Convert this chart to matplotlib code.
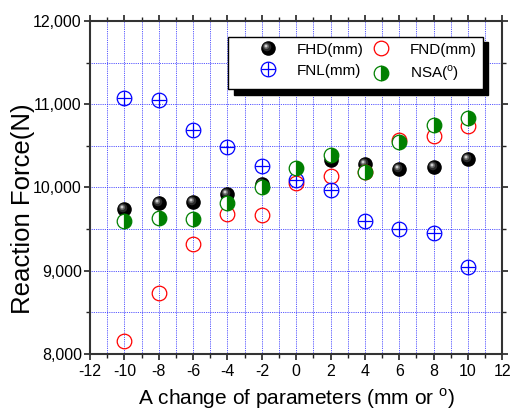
import numpy as np
import matplotlib
matplotlib.use('Agg')
import matplotlib.pyplot as plt
from matplotlib.path import Path
from matplotlib.ticker import MultipleLocator, StrMethodFormatter
from matplotlib.legend_handler import HandlerTuple

plt.rcParams['font.family'] = ['Liberation Sans', 'DejaVu Sans']
plt.rcParams['mathtext.fontset'] = 'custom'
plt.rcParams['mathtext.rm'] = 'Liberation Sans'
plt.rcParams['axes.unicode_minus'] = False

# ---- data ----
x   = [-10, -8, -6, -4, -2, 0, 2, 4, 6, 8, 10]
fhd = [9735, 9815, 9830, 9915, 10045, 10230, 10335, 10285, 10225, 10245, 10345]
fnd = [8160, 8730, 9325, 9675, 9665, 10055, 10140, 10180, 10570, 10615, 10735]
fnl = [11080, 11055, 10695, 10480, 10255, 10095, 9965, 9595, 9505, 9450, 9045]
nsa = [9595, 9635, 9615, 9815, 10000, 10230, 10385, 10180, 10540, 10750, 10840]

labels = ['FHD(mm)', 'FND(mm)', 'FNL(mm)', r'NSA($^\mathrm{o}$)']

MS = 10.5


def blob(cx, cy, r):
    # circle path padded with two move-tos so the marker keeps its scale/offset
    c = Path.circle((cx, cy), r)
    verts = np.vstack([[[-1, -1]], [[1, 1]], c.vertices])
    codes = [Path.MOVETO, Path.MOVETO] + list(c.codes)
    return Path(verts, codes)


dpi = 100
fig = plt.figure(figsize=(512 / dpi, 411 / dpi), dpi=dpi)
ax = fig.add_axes([0.176, 0.139, 0.805, 0.810])

# FHD: shaded black spheres
layers = [(0.0, 0.0, 1.0, '#000000'),
          (-0.22, 0.22, 0.6, '#2a2a2a'),
          (-0.3, 0.3, 0.38, '#666666'),
          (-0.34, 0.34, 0.2, '#cccccc')]
fhd_h = []
for cx, cy, r, col in layers:
    ln, = ax.plot(x, fhd, ls='none', marker=blob(cx, cy, r), ms=MS,
                  mfc=col, mec='none', zorder=3)
    fhd_h.append(ln)

# FND: open red circles
fnd_h, = ax.plot(x, fnd, ls='none', marker='o', ms=MS, mfc='none',
                 mec='red', mew=0.9, zorder=3)

# FNL: blue circle with plus
fnl_o, = ax.plot(x, fnl, ls='none', marker='o', ms=MS, mfc='none',
                 mec='blue', mew=0.9, zorder=3)
fnl_p, = ax.plot(x, fnl, ls='none', marker='+', ms=MS, mec='blue',
                 mew=0.9, zorder=3)

# NSA: half-filled green
nsa_h, = ax.plot(x, nsa, ls='none', marker='o', ms=MS, fillstyle='right',
                 mfc='#008000', mfcalt='white', mec='#008000', mew=0.9,
                 zorder=4)

ax.set_xlim(-12, 12)
ax.set_ylim(8000, 12000)
ax.xaxis.set_major_locator(MultipleLocator(2))
ax.xaxis.set_minor_locator(MultipleLocator(1))
ax.yaxis.set_major_locator(MultipleLocator(1000))
ax.yaxis.set_minor_locator(MultipleLocator(500))
ax.yaxis.set_major_formatter(StrMethodFormatter('{x:,.0f}'))

ax.set_axisbelow(True)
ax.tick_params(which='both', direction='out', top=True, right=True,
               labelsize=11.5, color='#222222')
ax.tick_params(axis='x', which='both', pad=3)
ax.tick_params(axis='y', which='both', pad=1.5)
ax.tick_params(which='major', length=4.5, width=1.2)
ax.tick_params(which='minor', length=3, width=1.0)
ax.grid(which='both', color='#2020ff', ls=(0, (1, 1.2)), lw=0.6)
for s in ax.spines.values():
    s.set_linewidth(1.5)
    s.set_color('#333333')

ax.set_ylabel('Reaction Force(N)', fontsize=18.5)
ax.yaxis.set_label_coords(-0.133, 0.435)
ax.set_xlabel(r'A change of parameters (mm or $^\mathrm{o}$)', fontsize=15,
              labelpad=5)

handles = [tuple(fhd_h), (fnl_o, fnl_p), fnd_h, nsa_h]
leg_labels = [labels[0], labels[2], labels[1], labels[3]]
leg = ax.legend(handles, leg_labels, ncol=2, loc='upper left',
                bbox_to_anchor=(0.335, 0.953), borderaxespad=0,
                fontsize=11, frameon=True, fancybox=False,
                shadow={'color': 'black', 'alpha': 1, 'ox': 4, 'oy': -4},
                handler_map={tuple: HandlerTuple(ndivide=1, pad=0)},
                handlelength=4.44, handletextpad=-0.34, columnspacing=-1.1,
                borderpad=0.4, labelspacing=0.45)
leg.get_frame().set_edgecolor('black')
leg.get_frame().set_linewidth(1.0)
leg.get_frame().set_alpha(1)

fig.savefig('out.png', dpi=dpi)
